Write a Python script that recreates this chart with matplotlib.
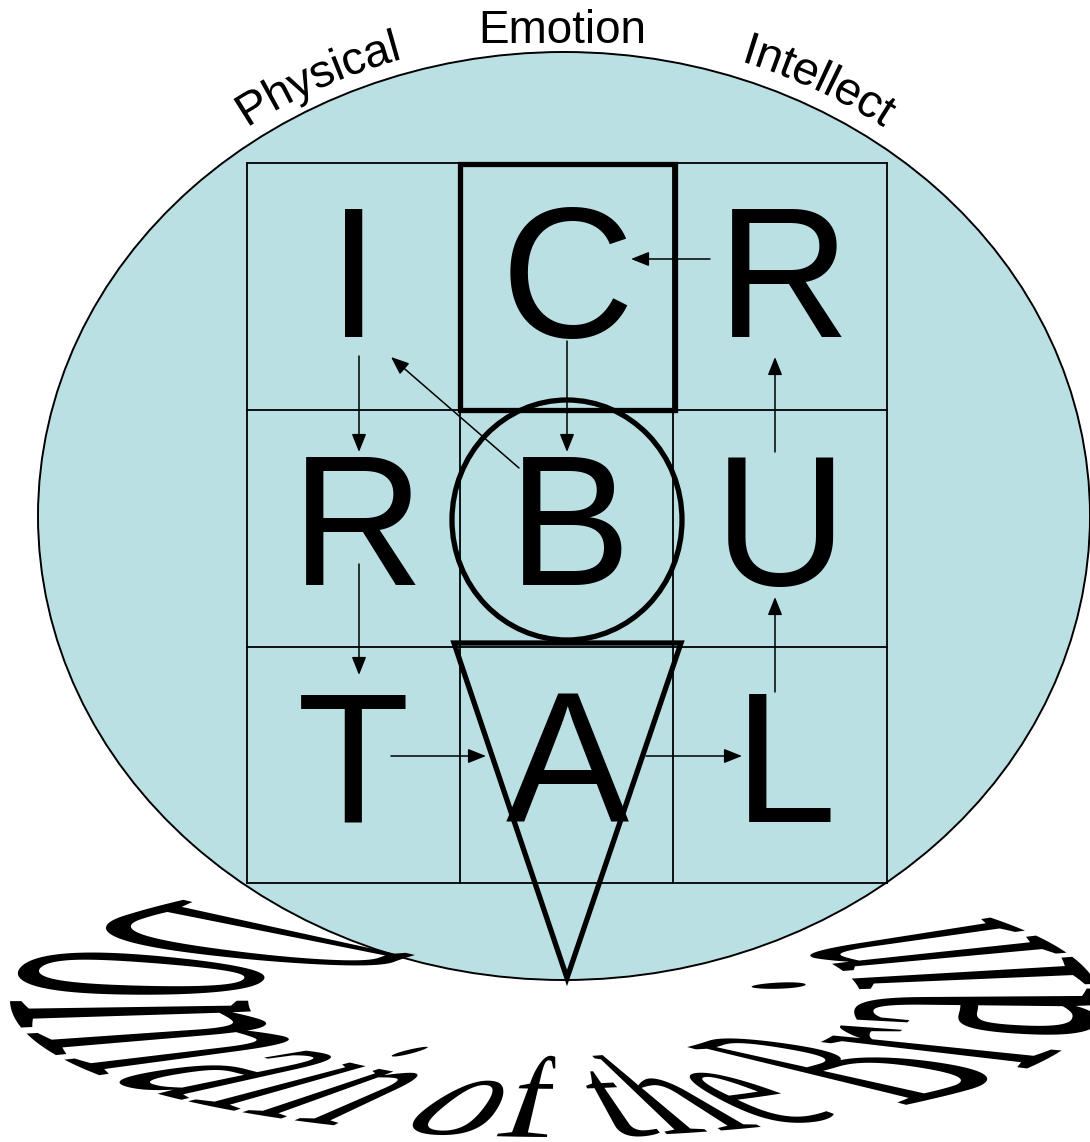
import numpy as np
import matplotlib
matplotlib.use('Agg')
import matplotlib.pyplot as plt
from matplotlib.patches import Ellipse, Rectangle, Polygon, PathPatch, FancyArrowPatch
from matplotlib.path import Path
from matplotlib.textpath import TextPath
from matplotlib.font_manager import FontProperties

W, H = 1090, 1142

# letters of the 3x3 grid, row by row
letters = [['I', 'C', 'R'],
           ['R', 'B', 'U'],
           ['T', 'A', 'L']]
letter_x = [[354, 567, 784],
            [357, 569, 780],
            [353, 567, 785]]
baselines = [337, 585, 822]

grid_x = [247, 460, 673, 887]
grid_y = [163, 410, 647, 883]

# arrows (start -> end), pixel coords
arrows = [
    ((710, 259), (631, 259)),   # R -> C
    ((567, 341), (567, 452)),   # C -> B
    ((359, 356), (359, 452)),   # I -> R
    ((519, 468), (391, 357)),   # B -> I
    ((359, 564), (359, 675)),   # R -> T
    ((391, 756), (486, 756)),   # T -> A
    ((646, 756), (742, 756)),   # A -> L
    ((775, 692), (775, 597)),   # L -> U
    ((775, 452), (775, 357)),   # U -> R
]

top_labels = ['Physical', 'Emotion', 'Intellect']
bottom_text = 'Domain of the Brain'

sans = FontProperties(family='Liberation Sans')
serif = FontProperties(family='Liberation Serif')

fig = plt.figure(figsize=(W / 100, H / 100), dpi=100)
ax = fig.add_axes([0, 0, 1, 1])
ax.set_xlim(0, W)
ax.set_ylim(H, 0)
ax.axis('off')

# big ellipse
ECX, ECY, EA, EB = 564, 516, 526, 464
ax.add_patch(Ellipse((ECX, ECY), 2 * EA, 2 * EB, fc='#bbe0e3', ec='black', lw=1.4, zorder=1))

# grid
for x in grid_x:
    ax.plot([x, x], [grid_y[0], grid_y[-1]], color='black', lw=1.3, zorder=2)
for y in grid_y:
    ax.plot([grid_x[0], grid_x[-1]], [y, y], color='black', lw=1.3, zorder=2)

# thick shapes: square, circle, triangle
ax.add_patch(Rectangle((460, 164), 215, 246, fill=False, ec='black', lw=3.8, zorder=3))
ax.add_patch(Ellipse((567, 520), 230, 240, fill=False, ec='black', lw=3.8, zorder=3))
ax.add_patch(Polygon([(454, 643), (681, 643), (567, 978)], closed=True, fill=False,
                     ec='black', lw=3.8, joinstyle='miter', zorder=3))

# letters
cap = TextPath((0, 0), 'I', size=100, prop=sans).get_extents().height / 100
fs = 127 / cap * 72 / 100
for r, row in enumerate(letters):
    for c, ch in enumerate(row):
        ax.text(letter_x[r][c], baselines[r], ch, fontproperties=sans, fontsize=fs,
                ha='center', va='baseline', zorder=4)

# arrows
for (x0, y0), (x1, y1) in arrows:
    ax.add_patch(FancyArrowPatch((x0, y0), (x1, y1), arrowstyle='-|>,head_length=0.55,head_width=0.22',
                                 mutation_scale=20, color='black', lw=1.1,
                                 shrinkA=0, shrinkB=0, zorder=5))


def densify(path, n=14):
    polys, cur = [], None
    for seg, code in path.iter_bezier():
        if code == Path.MOVETO:
            if cur is not None and len(cur) > 2:
                polys.append(np.array(cur))
            cur = [seg.control_points[0]]
        else:
            cur.extend(seg(np.linspace(0, 1, n)[1:]))
    if cur is not None and len(cur) > 2:
        polys.append(np.array(cur))
    return polys


def polys_to_path(polys):
    verts, codes = [], []
    for p in polys:
        verts.extend(p)
        verts.append(p[0])
        codes += [Path.MOVETO] + [Path.LINETO] * (len(p) - 1) + [Path.CLOSEPOLY]
    return Path(np.array(verts), codes)


def arc_label(text, phi_c, gap, size_px):
    # text bent along the top of the big ellipse
    tp = TextPath((0, 0), text, size=size_px, prop=sans)
    ext = tp.get_extents()
    uc = (ext.x0 + ext.x1) / 2
    A, B = EA + gap, EB + gap
    phi = np.linspace(phi_c + 1.0, phi_c - 1.0, 4000)
    ds = np.sqrt((A * np.sin(phi)) ** 2 + (B * np.cos(phi)) ** 2)
    s = np.concatenate([[0], np.cumsum(0.5 * (ds[1:] + ds[:-1]) * np.abs(np.diff(phi)))])
    s -= np.interp(phi_c, phi[::-1], s[::-1])
    out = []
    for p in densify(tp):
        f = np.interp(p[:, 0] - uc, s, phi)
        nx, ny = B * np.cos(f), -A * np.sin(f)
        nn = np.hypot(nx, ny)
        x = ECX + A * np.cos(f) + p[:, 1] * nx / nn
        y = ECY - B * np.sin(f) + p[:, 1] * ny / nn
        out.append(np.column_stack([x, y]))
    ax.add_patch(PathPatch(polys_to_path(out), fc='black', ec='none', zorder=6))


lab_px = 33 * 100 / 72
arc_label(top_labels[0], np.radians(116.5), 15, lab_px)
ax.text(562, 43, top_labels[1], fontproperties=sans, fontsize=33, ha='center', va='baseline', zorder=6)
arc_label(top_labels[2], np.radians(62.3), 17, lab_px)

# WordArt style text wrapped round the bottom
CX, CY = 555, 1000
AO, BO = 545, 137     # baseline ellipse
AI, BI = 185, 57      # ascender ellipse
t_start, t_end = np.radians(227), np.radians(-37)
tp = TextPath((0, 0), bottom_text, size=1, prop=serif)
ext = tp.get_extents()
h_ref = TextPath((0, 0), 'h', size=1, prop=serif).get_extents().y1
tt = np.linspace(t_start, t_end, 4000)
ds = np.sqrt((2.6 * np.sin(tt)) ** 2 + np.cos(tt) ** 2)
sc = np.concatenate([[0], np.cumsum(0.5 * (ds[1:] + ds[:-1]))])
sc /= sc[-1]
warped = []
for p in densify(tp, 20):
    fu = (p[:, 0] - ext.x0) / (ext.x1 - ext.x0)
    w = p[:, 1] / h_ref
    t = np.interp(fu, sc, tt)
    x = CX + (AO + (AI - AO) * w) * np.cos(t)
    y = CY + (BO + (BI - BO) * w) * np.sin(t)
    warped.append(np.column_stack([x, y]))
ax.add_patch(PathPatch(polys_to_path(warped), fc='black', ec='none', zorder=6))

fig.savefig('out.png', dpi=100)
